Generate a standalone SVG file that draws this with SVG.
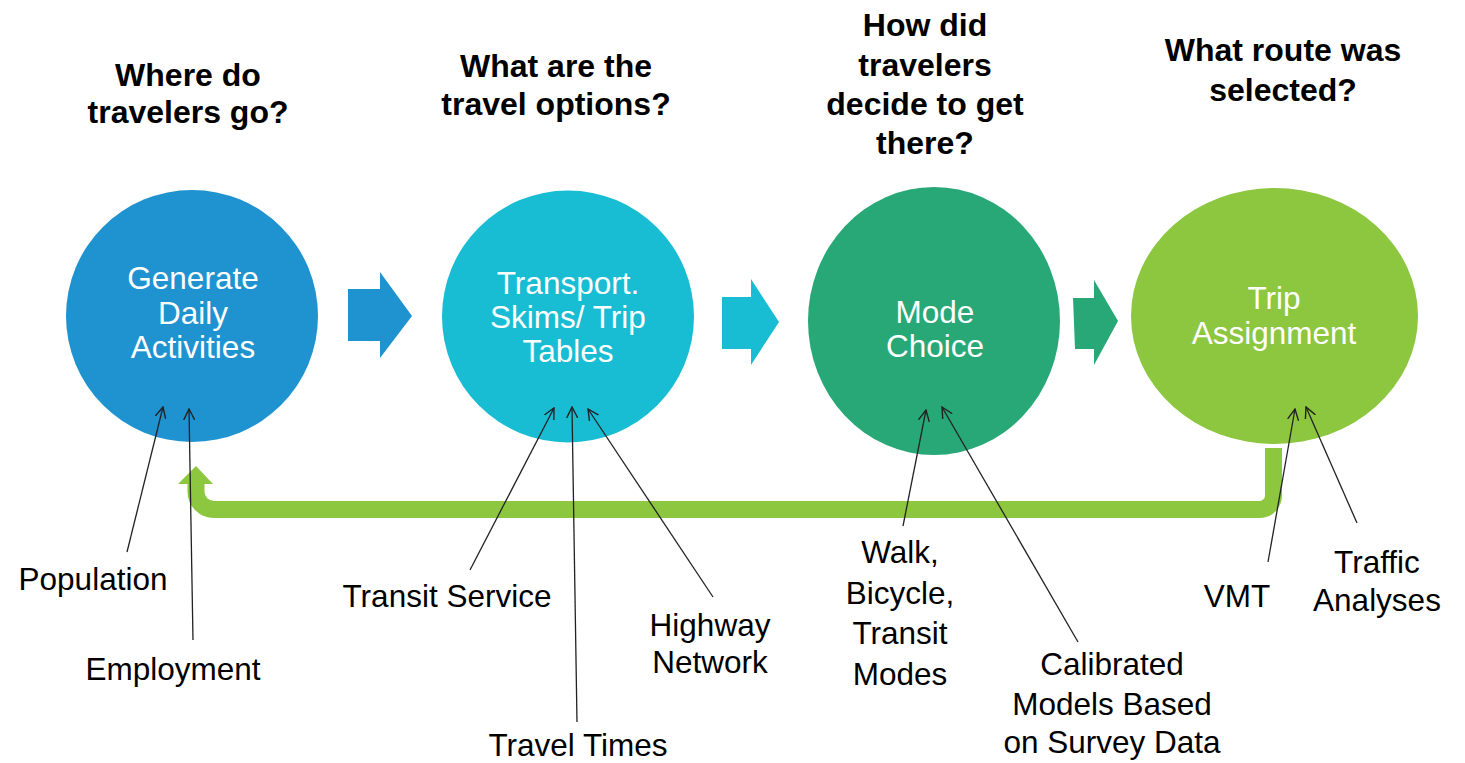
<svg xmlns="http://www.w3.org/2000/svg" width="1465" height="763" viewBox="0 0 1465 763">
<style>
.hdr{font-family:"Liberation Sans",Arial,sans-serif;font-weight:bold;font-size:32px;fill:#000;text-anchor:middle}
.in{font-family:"Liberation Sans",Arial,sans-serif;font-size:31.5px;fill:#fff;text-anchor:middle}
.lbl{font-family:"Liberation Sans",Arial,sans-serif;font-size:31.5px;fill:#000;text-anchor:middle}
.con{stroke:#222;stroke-width:1.3;fill:none;marker-end:url(#oa)}
</style>
<defs>
<marker id="oa" viewBox="0 0 12 12" refX="11" refY="6" markerWidth="12" markerHeight="12" markerUnits="userSpaceOnUse" orient="auto">
<path d="M0,0.5 L11,6 L0,11.5" fill="none" stroke="#222" stroke-width="1.4"/>
</marker>
</defs>
<rect width="1465" height="763" fill="#fff"/>
<g id="headers">
<text class="hdr" x="188" y="86">Where do</text>
<text class="hdr" x="188" y="123">travelers go?</text>
<text class="hdr" x="556" y="77">What are the</text>
<text class="hdr" x="556" y="115">travel options?</text>
<text class="hdr" x="925" y="36">How did</text>
<text class="hdr" x="925" y="76">travelers</text>
<text class="hdr" x="925" y="115">decide to get</text>
<text class="hdr" x="925" y="154">there?</text>
<text class="hdr" x="1283" y="61">What route was</text>
<text class="hdr" x="1283" y="101">selected?</text>
</g>
<g id="feedback">
<path d="M1273.5,448 L1273.5,495 A14,14 0 0 1 1259.5,509.5 L214,509.5 A18,18 0 0 1 196,491.5 L196,483" fill="none" stroke="#8DC63F" stroke-width="17"/>
<polygon points="178,484 196,466 213,484" fill="#8DC63F"/>
</g>
<g id="node-generate">
<circle cx="192" cy="316" r="126" fill="#1F92D0"/>
<text class="in" x="193" y="289">Generate</text>
<text class="in" x="193" y="324">Daily</text>
<text class="in" x="193" y="358">Activities</text>
</g>
<g id="node-skims">
<circle cx="568" cy="316.5" r="126" fill="#18BDD3"/>
<text class="in" x="568" y="294">Transport.</text>
<text class="in" x="568" y="328">Skims/ Trip</text>
<text class="in" x="568" y="362">Tables</text>
</g>
<g id="node-mode">
<ellipse cx="934" cy="321" rx="126" ry="134" fill="#28A877"/>
<text class="in" x="935" y="323">Mode</text>
<text class="in" x="935" y="357">Choice</text>
</g>
<g id="node-assign">
<ellipse cx="1274.5" cy="316" rx="143.5" ry="128" fill="#8DC63F"/>
<text class="in" x="1274" y="309">Trip</text>
<text class="in" x="1274" y="344">Assignment</text>
</g>
<g id="flow-arrows">
<polygon points="348,289 380,289 380,272 412,316 380,358 380,341 348,341" fill="#1F92D0"/>
<polygon points="722,297 751,297 751,279 779,322 751,365 751,349 722,349" fill="#18BDD3"/>
<polygon points="1073,298 1094,298 1094,280 1118,321 1094,365 1094,349 1075,349" fill="#28A877"/>
</g>
<g id="labels">
<text class="lbl" x="93" y="590">Population</text>
<text class="lbl" x="173" y="680">Employment</text>
<text class="lbl" x="447" y="607">Transit Service</text>
<text class="lbl" x="578" y="756">Travel Times</text>
<text class="lbl" x="710" y="636">Highway</text>
<text class="lbl" x="710" y="673">Network</text>
<text class="lbl" x="900" y="563">Walk,</text>
<text class="lbl" x="900" y="604">Bicycle,</text>
<text class="lbl" x="900" y="644">Transit</text>
<text class="lbl" x="900" y="685">Modes</text>
<text class="lbl" x="1112" y="675">Calibrated</text>
<text class="lbl" x="1112" y="715">Models  Based</text>
<text class="lbl" x="1112" y="753">on Survey Data</text>
<text class="lbl" x="1237" y="607">VMT</text>
<text class="lbl" x="1377" y="573">Traffic</text>
<text class="lbl" x="1377" y="611">Analyses</text>
</g>
<g id="connectors">
<line class="con" x1="127" y1="552" x2="163" y2="407"/>
<line class="con" x1="193" y1="640" x2="189" y2="409"/>
<line class="con" x1="470" y1="570" x2="554" y2="408"/>
<line class="con" x1="577" y1="722" x2="572" y2="407"/>
<line class="con" x1="713" y1="597" x2="588" y2="409"/>
<line class="con" x1="903" y1="526" x2="926" y2="410"/>
<line class="con" x1="1078" y1="642" x2="942" y2="407"/>
<line class="con" x1="1268" y1="562" x2="1295" y2="409"/>
<line class="con" x1="1357" y1="523" x2="1306" y2="407"/>
</g>
</svg>
